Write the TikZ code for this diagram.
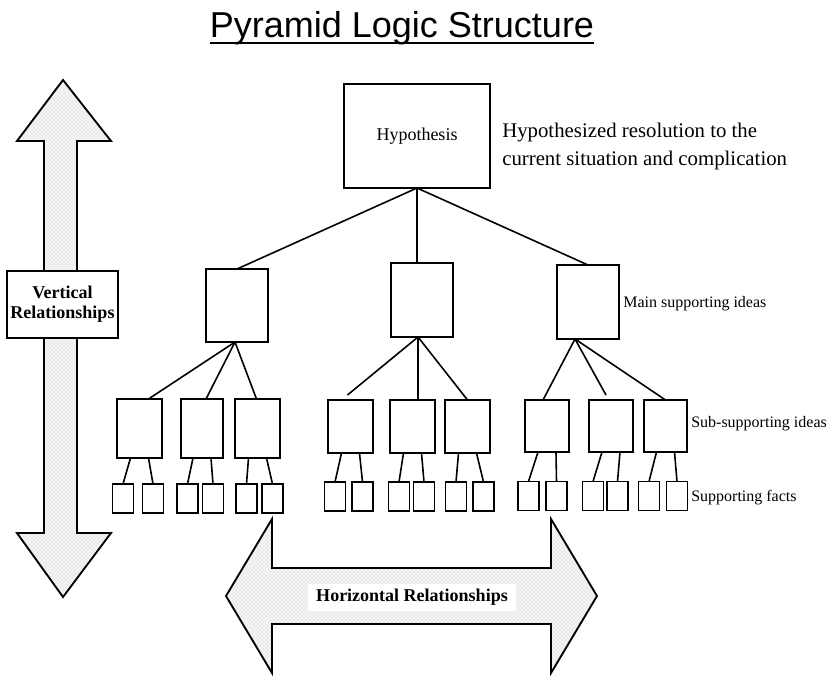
\documentclass[tikz,border=0pt]{standalone}
\usepackage{fontspec}
\setmainfont{Liberation Serif}
\newfontfamily\titlefont{Liberation Sans}
\usetikzlibrary{calc,patterns}
\begin{document}
\begin{tikzpicture}[x=0.75pt,y=-0.75pt,
  bx/.style 2 args={draw,line width=1.3pt,fill=white,inner sep=0pt,outer sep=0pt,
     minimum width=#1*0.75pt,minimum height=#2*0.75pt},
  conn/.style={line width=1.2pt},
  bigarrow/.style={draw,line width=1.4pt,line join=miter,
     preaction={fill=black!4},pattern=crosshatch dots,pattern color=black!22},
  lbl/.style={font=\fontsize{12pt}{14pt}\selectfont,inner sep=0pt,anchor=west},
  boldlbl/.style={font=\fontsize{13.5pt}{15pt}\selectfont\bfseries,align=center}]
\useasboundingbox (0,0) rectangle (831,682);

% title
\node[font=\titlefont\fontsize{27pt}{30pt}\selectfont,inner sep=0pt,anchor=base] (title) at (402,37) {Pyramid Logic Structure};
\draw[line width=2pt] ($(title.base west)+(0,6)$) -- ($(title.base east)+(0,6)$);

% vertical arrow
\path[bigarrow] (63,80) -- (111,141) -- (77,141) -- (77,533) -- (111,533) -- (63,597)
  -- (17,533) -- (44,533) -- (44,141) -- (17,141) -- cycle;
\node[boldlbl,draw,line width=1.3pt,fill=white,minimum width=111*0.75pt,minimum height=67*0.75pt,inner sep=0pt]
  (vrel) at (62.5,304.5) {Vertical\\Relationships};

% horizontal arrow
\path[bigarrow] (226,596) -- (272,519) -- (272,568) -- (551,568) -- (551,519) -- (597,596)
  -- (551,673) -- (551,624) -- (272,624) -- (272,673) -- cycle;
\node[boldlbl,fill=white,inner xsep=6pt,inner ysep=4pt] (hrel) at (412,597) {Horizontal Relationships};

% hypothesis
\node[bx={146}{104},font=\fontsize{13.5pt}{15pt}\selectfont] (hyp) at (417,136) {Hypothesis};
\node[anchor=west,align=left,inner sep=0pt,font=\fontsize{15.6pt}{21pt}\selectfont] (hyptext) at (502,146)
  {Hypothesized resolution to the\\current situation and complication};

% main supporting ideas
\node[bx={62}{73}] (m1) at (237,305.5) {};
\node[bx={62}{74}] (m2) at (422,300) {};
\node[bx={62}{74}] (m3) at (588,302) {};
\node[lbl] (lmain) at (623,304) {Main supporting ideas};

\draw[conn] (hyp.south) -- (m1.north);
\draw[conn] (hyp.south) -- (hyp.south |- m2.north);
\draw[conn] (hyp.south) -- (m3.north);

% sub-supporting ideas
\node[bx={45}{59}] (s1) at (139.5,428.5) {};
\node[bx={42}{59}] (s2) at (202,428.5) {};
\node[bx={45}{59}] (s3) at (257.5,428.5) {};
\node[bx={45}{53}] (s4) at (350.5,426.5) {};
\node[bx={45}{53}] (s5) at (412.5,426.5) {};
\node[bx={45}{53}] (s6) at (467.5,426.5) {};
\node[bx={44}{52}] (s7) at (547,426) {};
\node[bx={44}{52}] (s8) at (611,426) {};
\node[bx={43}{52}] (s9) at (665.5,426) {};
\node[lbl] (lsub) at (691,424) {Sub-supporting ideas};

\coordinate (c1) at ($(m1.south)+(-2,0)$);
\coordinate (c2) at ($(m2.south)+(-4,0)$);
\coordinate (c3) at ($(m3.south)+(-13,0)$);
\draw[conn] (c1) -- ($(s1.north)+(9,0)$);
\draw[conn] (c1) -- ($(s2.north)+(4,0)$);
\draw[conn] (c1) -- ($(s3.north)+(-1,0)$);
\draw[conn] (c2) -- ($(s4.north)+(-3,-5)$);
\draw[conn] (c2) -- (c2 |- s5.north);
\draw[conn] (c2) -- (s6.north);
\draw[conn] (c3) -- ($(s7.north)+(-4,0)$);
\draw[conn] (c3) -- ($(s8.north)+(-5,-5)$);
\draw[conn] (c3) -- (s9.north);

% supporting facts
\foreach \n/\x/\y in {1/123/498.5,2/153/498.5,3/187.5/498.5,4/213/498.5,5/246.5/498.5,6/272.5/498.5,
  7/335/496.5,8/362.5/496.5,9/399/496.5,10/424/496.5,11/456/496.5,12/483.5/496.5,
  13/528.5/496,14/556.5/496,15/593/496,16/617.5/496,17/649/496,18/677/496}
  {\node[bx={21}{29}] (f\n) at (\x,\y) {};}
\node[lbl] (lfact) at (691,498) {Supporting facts};

\foreach \s/\a/\b in {s1/f1/f2,s2/f3/f4,s3/f5/f6,s4/f7/f8,s5/f9/f10,s6/f11/f12,s7/f13/f14,s8/f15/f16,s9/f17/f18}
{
  \draw[conn] ($(\s.south)+(-9,0)$) -- (\a.north);
  \draw[conn] ($(\s.south)+(9,0)$) -- (\b.north);
}
\end{tikzpicture}
\end{document}
